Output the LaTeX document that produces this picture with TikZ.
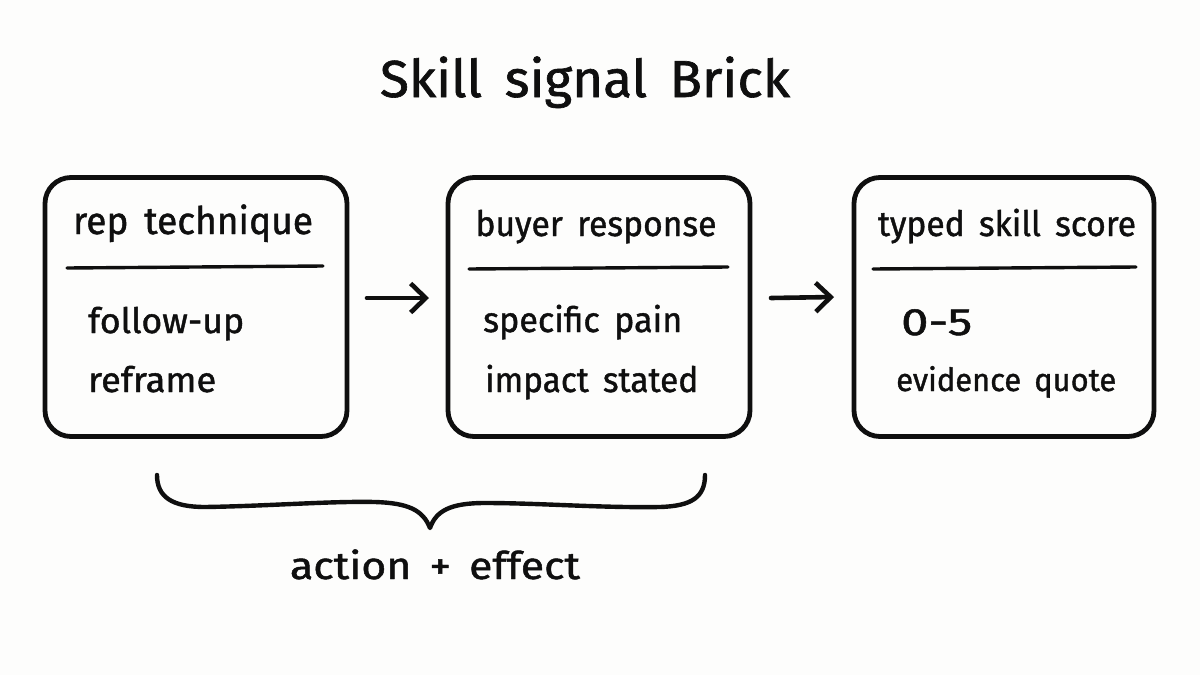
\documentclass[tikz,border=0pt]{standalone}
\usepackage{graphicx}
\usepackage{fontspec}
\setmainfont{Fira Sans}[FakeBold=1.2,WordSpace=1.6]
\usetikzlibrary{arrows.meta}
\definecolor{ink}{HTML}{0F0F0F}
\definecolor{paper}{HTML}{FDFDFC}
\newcommand\fitw[2]{\resizebox{#1pt}{\height}{#2}}
\newcommand\fsz[1]{\fontsize{#1}{#1}\selectfont}
\tikzset{
 boxs/.style={draw=ink,line width=4.8pt,rounded corners=26pt,minimum width=#1,minimum height=259pt,inner sep=0pt},
 rulel/.style={draw=ink,line width=3.4pt,line cap=round},
 arrowl/.style={draw=ink,line width=4.6pt,line cap=round,line join=round,-{Straight Barb[length=15pt,width=29pt,line width=4.6pt]}},
 lab/.style={text=ink,font=\fsz{35},inner sep=0pt,anchor=base},
 itm/.style={text=ink,font=\fsz{35},inner sep=0pt,anchor=base west},
}
\begin{document}
\begin{tikzpicture}[x=1pt,y=-1pt,line cap=round]
\useasboundingbox[fill=paper] (0,0) rectangle (1200,675);
\node[lab,font=\fsz{52}] (title) at (585,97) {\fitw{410}{Skill signal Brick}};
\node[boxs=302pt] (b1) at (196,307) {};
\node[boxs=302pt] (b2) at (599,307) {};
\node[boxs=300pt] (b3) at (1004,307) {};
\coordinate (r1a) at (67,268); \coordinate (r1b) at (323,266);
\coordinate (r2a) at (469,269); \coordinate (r2b) at (728,267);
\coordinate (r3a) at (873,269); \coordinate (r3b) at (1136,267);
\draw[rulel] (r1a)--(r1b); \draw[rulel] (r2a)--(r2b); \draw[rulel] (r3a)--(r3b);
\node[lab,font=\fsz{38}] (h1) at (193,234) {\fitw{240}{rep technique}};
\node[lab] (h2) at (596,236) {\fitw{241}{buyer response}};
\node[lab] (h3) at (1007,236) {\fitw{258}{typed skill score}};
\node[itm] (i11) at (88,333) {\fitw{156}{follow-up}};
\node[itm] (i12) at (88,392) {\fitw{128}{reframe}};
\node[itm] (i21) at (483,332) {\fitw{199}{specific pain}};
\node[itm] (i22) at (485,392) {\fitw{213}{impact stated}};
\node[itm,font=\fsz{38}] (i31) at (901,335) {\fitw{71}{0-5}};
\node[itm,font=\fsz{32}] (i32) at (896,391) {\fitw{220}{evidence quote}};
\coordinate (a1) at (367,298); \coordinate (a1e) at (429,298);
\coordinate (a2) at (771,298); \coordinate (a2e) at (834,297);
\draw[arrowl] (a1)--(a1e);
\draw[arrowl] (a2)--(a2e);
\coordinate (bL) at (157,475); \coordinate (bR) at (705,475); \coordinate (bM) at (430,528);
\draw[draw=ink,line width=4.4pt,line cap=round,line join=round]
 (bL) .. controls (157,497) and (172,507) .. (205,507)
 .. controls (270,506) and (330,501) .. (375,502)
 .. controls (408,503) and (423,510) .. (bM)
 .. controls (436,511) and (450,503) .. (485,503)
 .. controls (540,503) and (600,508) .. (660,507)
 .. controls (692,506) and (705,497) .. (bR);
\node[lab,font=\fsz{38}] (brace) at (435,579) {\fitw{290}{action + effect}};
\end{tikzpicture}
\end{document}
